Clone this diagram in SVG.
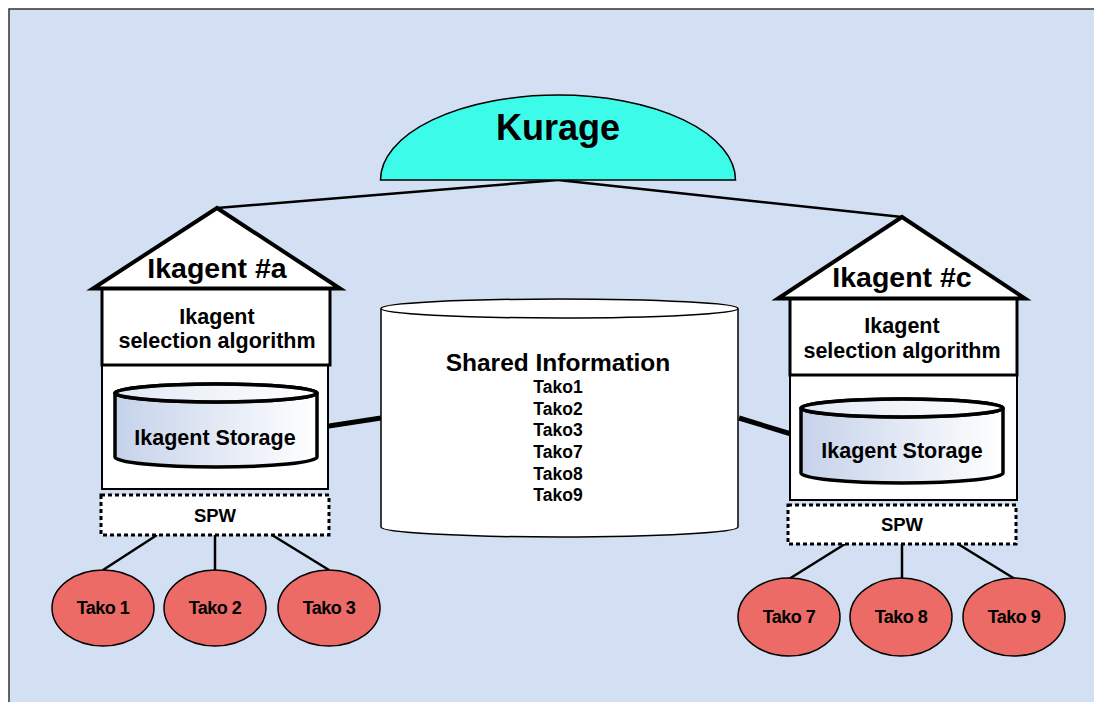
<svg xmlns="http://www.w3.org/2000/svg" width="1094" height="702" viewBox="0 0 1094 702">
<style>
text{font-family:"Liberation Sans",Arial,sans-serif;font-weight:bold;fill:#000;text-anchor:middle}
.roof{fill:#fff;stroke:#000;stroke-width:4;stroke-linejoin:miter}
.box1{fill:#fff;stroke:#000;stroke-width:3}
.box2{fill:#fff;stroke:#000;stroke-width:2}
.spw{fill:#fff;stroke:#000;stroke-width:3;stroke-dasharray:4 3}
.cyl{fill:url(#cg);stroke:#000;stroke-width:3.5}
.tako{fill:#ec6b66;stroke:#000;stroke-width:1.5}
.thin{stroke:#000;stroke-width:2.5;fill:none}
.thick{stroke:#000;stroke-width:5;fill:none}
.tk{font-size:17.5px}
.tl{font-size:18px;letter-spacing:-0.5px}
</style>
<defs>
<linearGradient id="cg" x1="0" y1="0" x2="1" y2="0">
<stop offset="0" stop-color="#c5d2ea"/>
<stop offset="1" stop-color="#ffffff"/>
</linearGradient>
</defs>
<rect x="0" y="0" width="1094" height="702" fill="#fff"/>
<rect x="9" y="9" width="1100" height="710" fill="#d3e0f3" stroke="#333" stroke-width="1.5"/>
<g id="connectors">
<line class="thin" x1="558" y1="180" x2="217" y2="208" stroke-width="2"/>
<line class="thin" x1="558" y1="180" x2="902" y2="217" stroke-width="2"/>
<line class="thick" x1="316" y1="428" x2="381" y2="418"/>
<line class="thick" x1="739" y1="418" x2="801" y2="437"/>
<line class="thin" x1="157" y1="535" x2="103" y2="570"/>
<line class="thin" x1="215" y1="535" x2="215" y2="570"/>
<line class="thin" x1="272" y1="535" x2="329" y2="570"/>
<line class="thin" x1="845" y1="544" x2="789" y2="579"/>
<line class="thin" x1="902" y1="544" x2="902" y2="579"/>
<line class="thin" x1="958" y1="544" x2="1015" y2="579"/>
</g>
<g id="kurage">
<path d="M380.5,180 A177.5,85 0 0 1 735.5,180 Z" fill="#3cfbe8" stroke="#000" stroke-width="1.5"/>
<text x="558" y="140" font-size="36">Kurage</text>
</g>
<g id="shared">
<path d="M381,308.5 L381,527 A178.5,10 0 0 0 738,527 L738,308.5" fill="#fff" stroke="#000" stroke-width="1.5"/>
<ellipse cx="559.5" cy="308.5" rx="178.5" ry="9.5" fill="#fff" stroke="#000" stroke-width="1.5"/>
<text x="558" y="371" font-size="24.5">Shared Information</text>
<text class="tk" x="558" y="393">Tako1</text>
<text class="tk" x="558" y="415">Tako2</text>
<text class="tk" x="558" y="436">Tako3</text>
<text class="tk" x="558" y="458">Tako7</text>
<text class="tk" x="558" y="480">Tako8</text>
<text class="tk" x="558" y="501">Tako9</text>
</g>
<g id="ikagent-a">
<rect class="box2" x="102" y="365" width="226" height="124"/>
<rect class="box1" x="102" y="288" width="228" height="77"/>
<polygon class="roof" points="217,208 93,288.5 340,288.5"/>
<text x="217" y="278" font-size="28.5">Ikagent #a</text>
<text x="217" y="324" font-size="21.5">Ikagent</text>
<text x="217" y="348" font-size="21.5">selection algorithm</text>
<path class="cyl" d="M115,393 L115,457 A101,10 0 0 0 317,457 L317,393"/>
<ellipse cx="216" cy="393" rx="101" ry="9" fill="#fff" stroke="#000" stroke-width="3.5"/>
<ellipse cx="216" cy="393" rx="101" ry="9" fill="url(#cg)" fill-opacity="0.5" stroke="#000" stroke-width="3.5"/>
<text x="215" y="445" font-size="21.5">Ikagent Storage</text>
<rect class="spw" x="101" y="495" width="228" height="40"/>
<text x="215" y="522" font-size="18.5">SPW</text>
</g>
<g id="ikagent-c">
<rect class="box2" x="790" y="375" width="227" height="125"/>
<rect class="box1" x="790" y="298" width="227" height="77"/>
<polygon class="roof" points="902,217 778,298.5 1025,298.5"/>
<text x="902" y="287" font-size="28.5">Ikagent #c</text>
<text x="902" y="333" font-size="21.5">Ikagent</text>
<text x="902" y="358" font-size="21.5">selection algorithm</text>
<path class="cyl" d="M801,408 L801,473 A101,10 0 0 0 1003,473 L1003,408"/>
<ellipse cx="902" cy="408" rx="101" ry="9" fill="#fff" stroke="#000" stroke-width="3.5"/>
<ellipse cx="902" cy="408" rx="101" ry="9" fill="url(#cg)" fill-opacity="0.5" stroke="#000" stroke-width="3.5"/>
<text x="902" y="458" font-size="21.5">Ikagent Storage</text>
<rect class="spw" x="788" y="505" width="228" height="39"/>
<text x="902" y="531" font-size="18.5">SPW</text>
</g>
<g id="tako1"><ellipse class="tako" cx="103" cy="608" rx="51" ry="38"/><text class="tl" x="103" y="614">Tako 1</text></g>
<g id="tako2"><ellipse class="tako" cx="215" cy="608" rx="51" ry="38"/><text class="tl" x="215" y="614">Tako 2</text></g>
<g id="tako3"><ellipse class="tako" cx="329" cy="608" rx="51" ry="38"/><text class="tl" x="329" y="614">Tako 3</text></g>
<g id="tako7"><ellipse class="tako" cx="789" cy="617" rx="51" ry="39"/><text class="tl" x="789" y="623">Tako 7</text></g>
<g id="tako8"><ellipse class="tako" cx="901" cy="617" rx="51" ry="39"/><text class="tl" x="901" y="623">Tako 8</text></g>
<g id="tako9"><ellipse class="tako" cx="1014" cy="617" rx="51" ry="39"/><text class="tl" x="1014" y="623">Tako 9</text></g>
</svg>
